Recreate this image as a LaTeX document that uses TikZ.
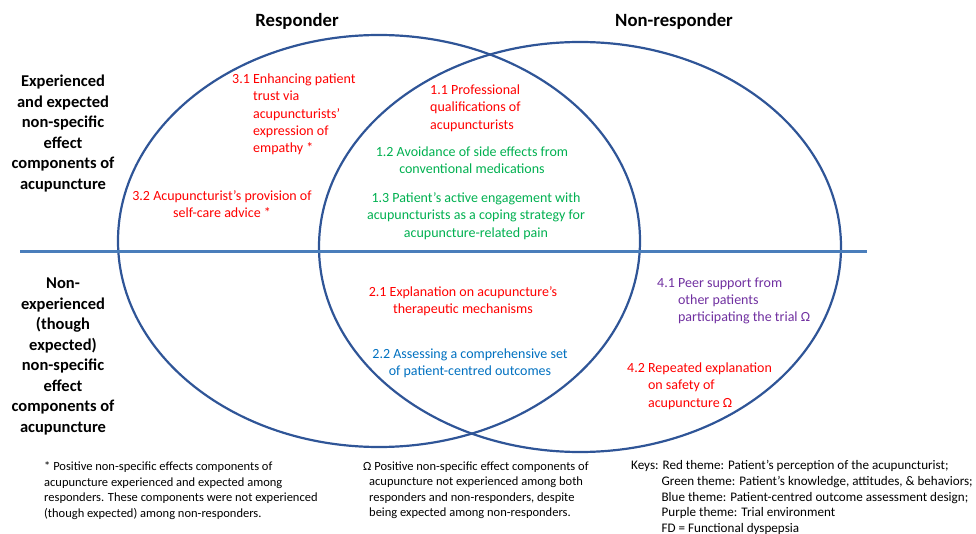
\documentclass[tikz,border=0pt]{standalone}
\usepackage{fontspec}
\setmainfont{Carlito}
\definecolor{themered}{HTML}{FF0000}
\definecolor{themegreen}{HTML}{00B050}
\definecolor{themeblue}{HTML}{0070C0}
\definecolor{themepurple}{HTML}{7030A0}
\definecolor{ringblue}{HTML}{2F5597}
\definecolor{axisblue}{HTML}{4A7EBB}
\tikzset{
  ring/.style={draw=ringblue, line width=2.2pt},
  axis/.style={draw=axisblue, line width=3pt},
  head/.style={font=\fontsize{18.7}{22}\selectfont\bfseries},
  rowlabel/.style={align=center, inner sep=0pt, font=\fontsize{16.5}{20.5}\selectfont\bfseries},
  item/.style={inner sep=0pt, font=\fontsize{14}{17.3}\selectfont},
  note/.style={inner sep=0pt, align=left, anchor=north west, font=\fontsize{12.5}{15.5}\selectfont}
}
\begin{document}
\begin{tikzpicture}[x=1pt, y=-1pt]
        \useasboundingbox (0, 0) rectangle (976, 534);
        % the two sets
        \draw[ring] (379, 241) ellipse [x radius=261, y radius=206];
        \draw[ring] (580, 247) ellipse [x radius=261, y radius=205];
        % divide experienced / non-experienced
        \draw[axis] (20, 252)--(867, 252);

        \node[head, anchor=base] (resp) at (297, 26.5) {Responder};
        \node[head, anchor=base] (nonresp) at (674, 26.5) {Non-responder};

        \node[rowlabel, anchor=north] (expd) at (63, 75) {Experienced\\and expected\\non-specific\\effect\\components of\\acupuncture};
        \node[rowlabel, anchor=north] (nonexpd) at (63, 278) {Non-\\experienced\\(though\\expected)\\non-specific\\effect\\components of\\acupuncture};

        % responder only
        \node[item, themered, align=left, anchor=north west] (t31) at (232, 73.5) {3.1 Enhancing patient\\\hphantom{3.1\ }trust via\\\hphantom{3.1\ }acupuncturists’\\\hphantom{3.1\ }expression of\\\hphantom{3.1\ }empathy *};
        \node[item, themered, align=center, anchor=north] (t32) at (222, 190.5) {3.2 Acupuncturist’s provision of\\self-care advice *};

        % both, experienced
        \node[item, themered, align=left, anchor=north west] (t11) at (430, 84.5) {1.1 Professional\\qualifications of\\acupuncturists};
        \node[item, themegreen, align=center, anchor=north] (t12) at (472, 146.5) {1.2 Avoidance of side effects from\\conventional medications};
        \node[item, themegreen, align=center, anchor=north] (t13) at (476, 192.5) {1.3 Patient’s active engagement with\\acupuncturists as a coping strategy for\\acupuncture-related pain};

        % both, not experienced
        \node[item, themered, align=center, anchor=north] (t21) at (463, 286.5) {2.1 Explanation on acupuncture’s\\therapeutic mechanisms};
        \node[item, themeblue, align=center, anchor=north] (t22) at (470, 348.5) {2.2 Assessing a comprehensive set\\of patient-centred outcomes};

        % non-responder only
        \node[item, themepurple, align=left, anchor=north west] (t41) at (657, 277.5) {4.1 Peer support from\\\hphantom{4.1\ }other patients\\\hphantom{4.1\ }participating the trial Ω};
        \node[item, themered, align=left, anchor=north west] (t42) at (627, 362.5) {4.2 Repeated explanation\\\hphantom{4.2\ }on safety of\\\hphantom{4.2\ }acupuncture Ω};

        % footnotes
        \node[note] (star) at (44, 461.5) {* Positive non-specific effects components of\\acupuncture experienced and expected among\\responders. These components were not experienced\\(though expected) among non-responders.};
        \node[note] (omega) at (363, 461.5) {Ω Positive non-specific effect components of\\\hspace*{6pt}acupuncture not experienced among both\\\hspace*{6pt}responders and non-responders, despite\\\hspace*{6pt}being expected among non-responders.};
        \node[note, font=\fontsize{13.1}{15.8}\selectfont] (keys) at (631, 460) {Keys: Red theme: Patient’s perception of the acupuncturist;\\\hphantom{Keys:\ }Green theme: Patient’s knowledge, attitudes, \& behaviors;\\\hphantom{Keys:\ }Blue theme: Patient-centred outcome assessment design;\\\hphantom{Keys:\ }Purple theme: Trial environment\\\hphantom{Keys:\ }FD = Functional dyspepsia};
    \end{tikzpicture}
\end{document}
